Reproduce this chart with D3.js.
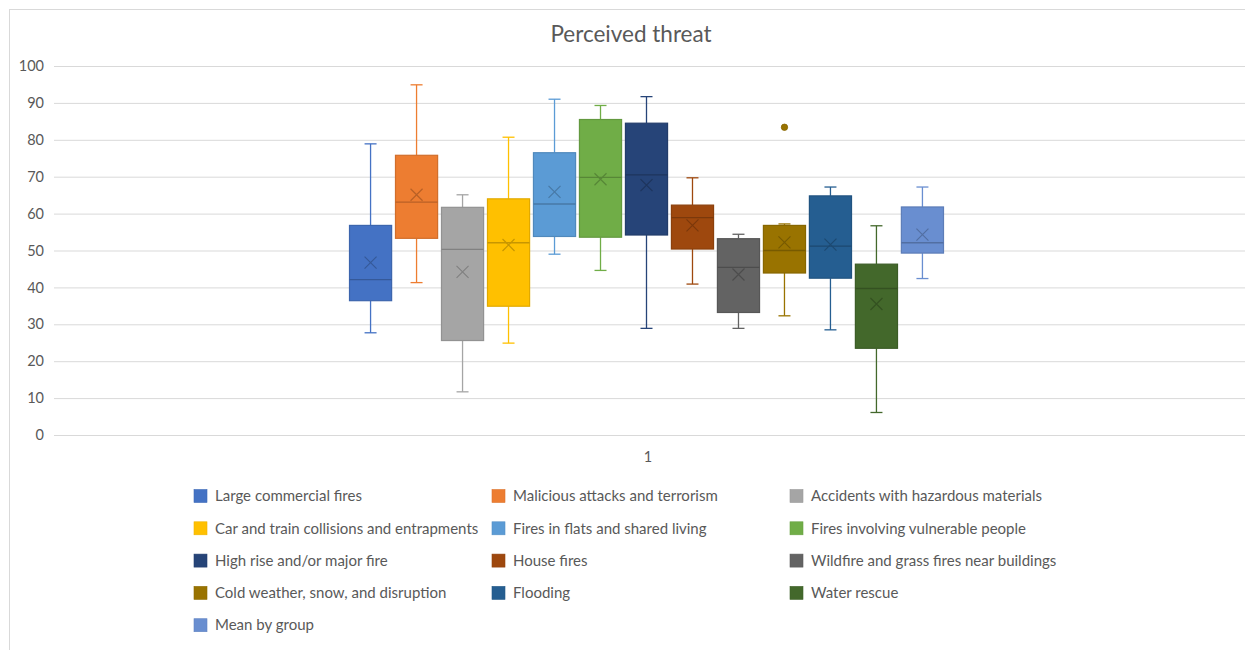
<!DOCTYPE html>
<html>
<head>
<meta charset="utf-8">
<script src="https://cdn.jsdelivr.net/npm/d3@7"></script>
<style>
  html, body { margin: 0; padding: 0; background: #ffffff; }
  svg { display: block; font-family: Lato, "Open Sans", sans-serif; }
</style>
</head>
<body>
<svg id="chart" width="1245" height="650"></svg>
<script>
// ---- Data ----
const categories = [
  "Large commercial fires",
  "Malicious attacks and terrorism",
  "Accidents with hazardous materials",
  "Car and train collisions and entrapments",
  "Fires in flats and shared living",
  "Fires involving vulnerable people",
  "High rise and/or major fire",
  "House fires",
  "Wildfire and grass fires near buildings",
  "Cold weather, snow, and disruption",
  "Flooding",
  "Water rescue",
  "Mean by group"
];
const whiskerLow  = [27.7, 41.3, 11.7, 24.9, 49.0, 44.6, 28.9, 40.9, 28.9, 32.3, 28.5,  6.1, 42.4];
const q1          = [36.4, 53.3, 25.6, 34.9, 53.8, 53.6, 54.2, 50.4, 33.2, 43.9, 42.5, 23.5, 49.3];
const medians     = [42.1, 63.1, 50.3, 52.1, 62.6, 69.8, 70.5, 58.9, 45.4, 50.0, 51.2, 39.7, 52.1];
const q3          = [56.8, 75.8, 61.7, 64.0, 76.5, 85.5, 84.5, 62.3, 53.2, 56.8, 64.8, 46.3, 61.8];
const whiskerHigh = [78.9, 94.9, 65.1, 80.7, 91.0, 89.3, 91.7, 69.7, 54.4, 57.2, 67.2, 56.7, 67.2];
const means       = [46.7, 65.1, 44.2, 51.5, 65.9, 69.3, 67.7, 56.8, 43.5, 52.2, 51.6, 35.5, 54.3];
const outliers    = [[], [], [], [], [], [], [], [], [], [83.4], [], [], []];
const groupLabels = ["1"];
const yTicks      = [0, 10, 20, 30, 40, 50, 60, 70, 80, 90, 100];
const chartTitle  = "Perceived threat";

// ---- Styles ----
const colors = ["#4472C4", "#ED7D31", "#A5A5A5", "#FFC000", "#5B9BD5", "#70AD47",
                "#264478", "#9E480E", "#636363", "#997300", "#255E91", "#43682B", "#698ED0"];
const textColor = "#595959";
const gridColor = "#d9d9d9";

const svg = d3.select("#chart");

// chart border (cropped at right/bottom in reference)
svg.append("rect")
  .attr("x", 9.5).attr("y", 9.5)
  .attr("width", 1260).attr("height", 660)
  .attr("fill", "none").attr("stroke", gridColor).attr("stroke-width", 1);

// title
svg.append("text")
  .attr("x", 631).attr("y", 42)
  .attr("text-anchor", "middle")
  .attr("font-size", 22.5)
  .attr("fill", textColor)
  .text(chartTitle);

const plot = { left: 54, right: 1242, top: 66, bottom: 435 };

const y = d3.scaleLinear().domain([0, 100]).range([plot.bottom, plot.top]);
const xGroup = d3.scaleBand().domain(groupLabels).range([plot.left, plot.right]);
const gc = xGroup("1") + xGroup.bandwidth() / 2;
const innerHalf = xGroup.bandwidth() * 0.25;
const x = d3.scaleBand().domain(categories)
  .range([gc - innerHalf - 1.5, gc + innerHalf - 1.5])
  .paddingInner(0.084).paddingOuter(0);

// y axis with gridlines
const yAxis = svg.append("g")
  .attr("transform", `translate(${plot.left},0)`)
  .call(d3.axisLeft(y).tickValues(yTicks).tickSize(-(1245 - plot.left)).tickPadding(10));
yAxis.select(".domain").remove();
yAxis.selectAll(".tick line").attr("stroke", gridColor).attr("stroke-width", 1);
yAxis.selectAll(".tick text").attr("fill", textColor).attr("font-size", 14.5)
  .attr("font-family", "Lato, 'Open Sans', sans-serif");

// x axis
const xAxis = svg.append("g")
  .attr("transform", `translate(0,${plot.bottom})`)
  .call(d3.axisBottom(xGroup).tickSize(0).tickPadding(17));
xAxis.select(".domain").remove();
xAxis.selectAll(".tick text").attr("fill", textColor).attr("font-size", 14.5)
  .attr("font-family", "Lato, 'Open Sans', sans-serif");

// boxes
const boxes = svg.append("g").selectAll("g.box")
  .data(categories.map((c, i) => ({
    c, i, lo: whiskerLow[i], q1: q1[i], med: medians[i], q3: q3[i], hi: whiskerHigh[i],
    mean: means[i], out: outliers[i], color: colors[i]
  })))
  .join("g").attr("class", "box");

const bw = x.bandwidth();
const capW = 12;

boxes.each(function(d) {
  const g = d3.select(this);
  const x0 = x(d.c), cx = x0 + bw / 2;
  const dark = d3.color(d.color).darker(0.35).formatHex();
  const darker = d3.color(d.color).darker(0.7).formatHex();
  // whiskers
  g.append("line").attr("x1", cx).attr("x2", cx).attr("y1", y(d.q3)).attr("y2", y(d.hi))
    .attr("stroke", d.color).attr("stroke-width", 1.3);
  g.append("line").attr("x1", cx).attr("x2", cx).attr("y1", y(d.q1)).attr("y2", y(d.lo))
    .attr("stroke", d.color).attr("stroke-width", 1.3);
  g.append("line").attr("x1", cx - capW / 2).attr("x2", cx + capW / 2).attr("y1", y(d.hi)).attr("y2", y(d.hi))
    .attr("stroke", d.color).attr("stroke-width", 1.3);
  g.append("line").attr("x1", cx - capW / 2).attr("x2", cx + capW / 2).attr("y1", y(d.lo)).attr("y2", y(d.lo))
    .attr("stroke", d.color).attr("stroke-width", 1.3);
  // box
  g.append("rect").attr("x", x0).attr("width", bw)
    .attr("y", y(d.q3)).attr("height", y(d.q1) - y(d.q3))
    .attr("fill", d.color).attr("stroke", dark).attr("stroke-width", 1.2);
  // median
  g.append("line").attr("x1", x0).attr("x2", x0 + bw).attr("y1", y(d.med)).attr("y2", y(d.med))
    .attr("stroke", darker).attr("stroke-width", 1.3);
  // mean X
  const my = y(d.mean), s = 6;
  g.append("path")
    .attr("d", `M${cx - s},${my - s}L${cx + s},${my + s}M${cx - s},${my + s}L${cx + s},${my - s}`)
    .attr("stroke", darker).attr("stroke-width", 1.2).attr("fill", "none");
  // outliers
  g.selectAll("circle").data(d.out).join("circle")
    .attr("cx", cx).attr("cy", v => y(v)).attr("r", 3.2)
    .attr("fill", d.color).attr("stroke", dark).attr("stroke-width", 0.8);
});

// legend
const legend = svg.append("g").selectAll("g.leg")
  .data(categories.map((c, i) => ({ c, i })))
  .join("g").attr("class", "leg")
  .attr("transform", d => `translate(${194 + (d.i % 3) * 298},${496 + Math.floor(d.i / 3) * 32.3})`);
legend.append("rect").attr("x", 0).attr("y", -6.5).attr("width", 13).attr("height", 13)
  .attr("fill", d => colors[d.i]).attr("stroke", d => d3.color(colors[d.i]).darker(0.2)).attr("stroke-width", 0.6);
legend.append("text").attr("x", 21).attr("y", 0).attr("dy", "0.35em")
  .attr("font-size", 15).attr("fill", textColor).text(d => d.c);
</script>
</body>
</html>
